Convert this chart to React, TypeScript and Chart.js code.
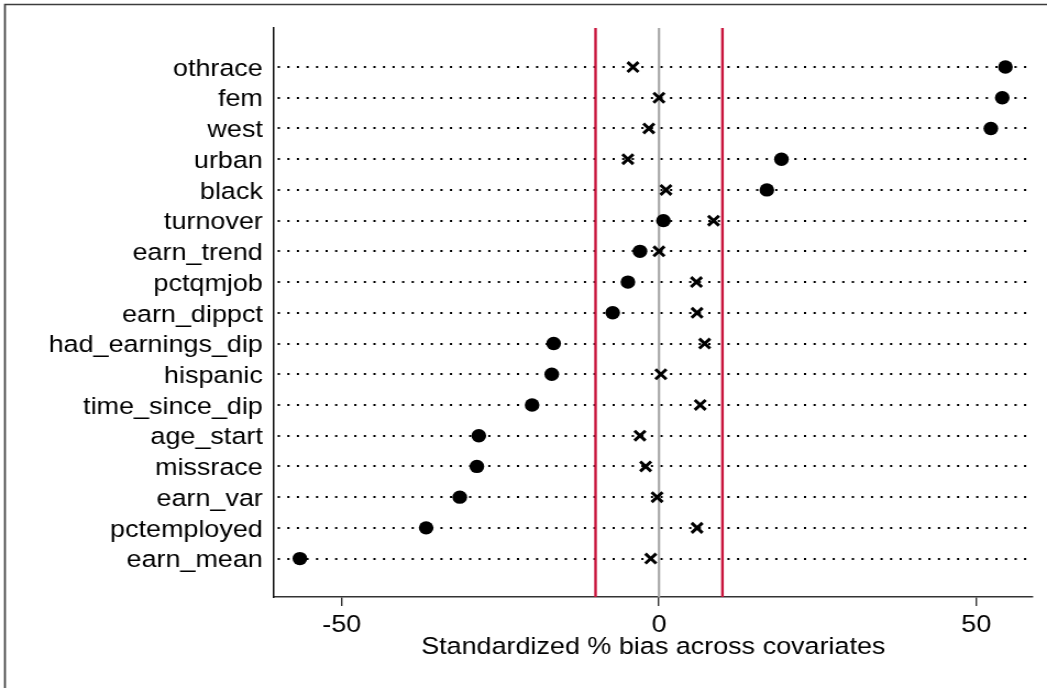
import React, { useEffect, useRef } from 'react';
import { Chart, registerables } from 'chart.js';

Chart.register(...registerables);

// Covariates, listed top to bottom
const covariates = [
  'othrace',
  'fem',
  'west',
  'urban',
  'black',
  'turnover',
  'earn_trend',
  'pctqmjob',
  'earn_dippct',
  'had_earnings_dip',
  'hispanic',
  'time_since_dip',
  'age_start',
  'missrace',
  'earn_var',
  'pctemployed',
  'earn_mean',
];

// Standardized % bias before matching (filled dots)
const unmatchedBias = [
  54.6, 54.1, 52.3, 19.3, 17.0, 0.7, -3.0, -4.9, -7.3, -16.6, -16.9, -20.0, -28.4, -28.7, -31.4, -36.7, -56.6,
];

// Standardized % bias after matching (crosses)
const matchedBias = [
  -4.1, 0.0, -1.6, -4.9, 1.1, 8.6, 0.0, 5.9, 6.0, 7.2, 0.3, 6.5, -3.0, -2.1, -0.3, 6.0, -1.3,
];

const xTickValues = [-50, 0, 50];
const thresholdLines = [-10, 10];
const zeroLine = [0];
const xAxisTitle = 'Standardized % bias across covariates';

// The graph is laid out on a narrower canvas and widened by CSS,
// giving the slightly wide lettering of the exported figure.
const CANVAS_W = 952;
const CANVAS_H = 688;
const DISPLAY_W = 1047;

const FONT_FAMILY = "'Liberation Sans', Arial, Helvetica, sans-serif";
const FONT_SIZE = 24.5;

const framePlugin = {
  id: 'outerFrame',
  beforeDraw(chart: any) {
    const ctx = chart.ctx;
    ctx.save();
    ctx.strokeStyle = '#3c3c3c';
    ctx.lineWidth = 1.7;
    ctx.beginPath();
    ctx.moveTo(4.5, chart.height + 5);
    ctx.lineTo(4.5, 4.5);
    ctx.lineTo(chart.width + 5, 4.5);
    ctx.stroke();
    ctx.restore();
  },
};

const referenceLinePlugin = {
  id: 'referenceLines',
  beforeDatasetsDraw(chart: any) {
    const { ctx, chartArea, scales } = chart;
    const draw = (values: number[], color: string, width: number) => {
      values.forEach((v) => {
        const x = scales.x.getPixelForValue(v);
        ctx.save();
        ctx.strokeStyle = color;
        ctx.lineWidth = width;
        ctx.beginPath();
        ctx.moveTo(x, chartArea.top);
        ctx.lineTo(x, chartArea.bottom);
        ctx.stroke();
        ctx.restore();
      });
    };
    draw(zeroLine, '#a9a9a9', 2.2);
    draw(thresholdLines, '#c8143c', 2.4);
  },
};

export default function App() {
  const canvasRef = useRef<HTMLCanvasElement | null>(null);

  useEffect(() => {
    const canvas = canvasRef.current;
    if (!canvas) return;

    const chart = new Chart(canvas, {
      type: 'scatter',
      data: {
        datasets: [
          {
            label: 'Unmatched',
            data: unmatchedBias.map((v, i) => ({ x: v, y: i })),
            pointStyle: 'circle',
            pointRadius: 6.7,
            pointBackgroundColor: '#000000',
            pointBorderWidth: 0,
            showLine: false,
          },
          {
            label: 'Matched',
            data: matchedBias.map((v, i) => ({ x: v, y: i })),
            pointStyle: 'crossRot',
            pointRadius: 7,
            pointBorderColor: '#000000',
            pointBorderWidth: 3,
            showLine: false,
          },
        ],
      },
      options: {
        responsive: false,
        animation: false,
        devicePixelRatio: 1,
        layout: { padding: { top: 28, right: 13, bottom: 0, left: 0 } },
        plugins: {
          legend: { display: false },
          tooltip: { enabled: false },
        },
        scales: {
          x: {
            type: 'linear',
            position: 'bottom',
            min: -60.7,
            max: 58.9,
            afterBuildTicks: (scale: any) => {
              scale.ticks = xTickValues.map((value) => ({ value }));
            },
            afterFit: (scale: any) => {
              scale.height = 91;
            },
            grid: {
              display: true,
              drawOnChartArea: false,
              drawTicks: true,
              tickLength: 9,
              color: '#333333',
              lineWidth: 1.4,
            },
            border: { display: true, color: '#333333', width: 1.5 },
            ticks: {
              autoSkip: false,
              maxRotation: 0,
              padding: 5,
              color: '#000000',
              font: { family: FONT_FAMILY, size: FONT_SIZE },
              callback: (v: any) => String(v),
            },
            title: {
              display: true,
              text: xAxisTitle,
              color: '#000000',
              font: { family: FONT_FAMILY, size: FONT_SIZE },
              padding: { top: 0, bottom: 26 },
            },
          },
          y: {
            type: 'linear',
            position: 'left',
            reverse: true,
            min: -1.27,
            max: 17.25,
            afterBuildTicks: (scale: any) => {
              scale.ticks = covariates.map((_, i) => ({ value: i }));
            },
            afterFit: (scale: any) => {
              scale.width = 249;
            },
            grid: {
              display: true,
              drawOnChartArea: true,
              drawTicks: false,
              tickLength: 0,
              color: '#000000',
              lineWidth: 2,
            },
            border: { display: true, color: '#111111', width: 1.5, dash: [2, 6.7], dashOffset: -3 },
            ticks: {
              autoSkip: false,
              padding: 10,
              labelOffset: 2,
              color: '#000000',
              font: { family: FONT_FAMILY, size: FONT_SIZE },
              callback: (v: any) => covariates[v as number] ?? '',
            },
          },
        },
      },
      plugins: [framePlugin, referenceLinePlugin],
    } as any);

    return () => {
      chart.destroy();
    };
  }, []);

  return (
    <div style={{ position: 'fixed', left: 0, top: 0, width: DISPLAY_W, height: CANVAS_H, background: '#ffffff' }}>
      <canvas
        ref={canvasRef}
        width={CANVAS_W}
        height={CANVAS_H}
        style={{ width: `${DISPLAY_W}px`, height: `${CANVAS_H}px`, display: 'block' }}
      />
    </div>
  );
}
